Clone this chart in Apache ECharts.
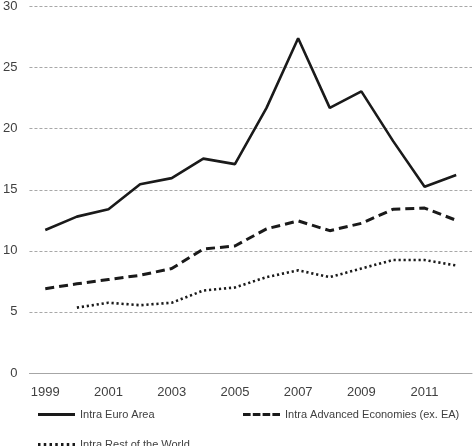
<!DOCTYPE html>
<html><head><meta charset="utf-8">
<script src="https://cdn.jsdelivr.net/npm/echarts@6/dist/echarts.min.js"></script>
<style>html,body{margin:0;padding:0;background:#fff}#c{width:473px;height:446px}</style>
</head><body><div id="c"></div>
<script>
var years = ['1999','2000','2001','2002','2003','2004','2005','2006','2007','2008','2009','2010','2011','2012'];
var euroArea = [11.7, 12.8, 13.4, 15.45, 15.95, 17.55, 17.1, 21.7, 27.4, 21.7, 23.05, 19.0, 15.25, 16.2];
var advanced = [6.9, 7.3, 7.65, 8.0, 8.55, 10.15, 10.4, 11.8, 12.45, 11.65, 12.25, 13.4, 13.5, 12.5];
var restWorld = [null, 5.35, 5.75, 5.55, 5.75, 6.75, 7.0, 7.85, 8.4, 7.85, 8.55, 9.25, 9.25, 8.8];
var names = ['Intra Euro Area', 'Intra Advanced Economies (ex. EA)', 'Intra Rest of the World'];
var yMin = 0, yMax = 30, yStep = 5;

var FONT = 'Liberation Sans';
var TXT = '#404040';
var ICON_SOLID = 'path://M0,0h37v3h-37z';
var ICON_DASH = 'path://M0,0h7.6v3h-7.6zM9.8,0h7.6v3h-7.6zM19.6,0h7.6v3h-7.6zM29.4,0h7.6v3h-7.6z';
var ICON_DOT = 'path://M0,0h2.5v3h-2.5zM5.75,0h2.5v3h-2.5zM11.5,0h2.5v3h-2.5zM17.25,0h2.5v3h-2.5zM23,0h2.5v3h-2.5zM28.75,0h2.5v3h-2.5zM34.5,0h2.5v3h-2.5z';
var chart = echarts.init(document.getElementById('c'));
function leg(name, icon, left, top) {
  return {
    data: [{name: name, icon: icon}], left: left, top: top, padding: 0,
    itemWidth: 37, itemHeight: 3, itemGap: 4,
    textStyle: {fontFamily: FONT, fontSize: 11, color: TXT},
    selectedMode: false
  };
}
chart.setOption({
  animation: false,
  grid: {left: 27, right: 1, top: 5, bottom: 73},
  legend: [leg(names[0], ICON_SOLID, 38, 409), leg(names[1], ICON_DASH, 243, 409), leg(names[2], ICON_DOT, 38, 439)],
  xAxis: {
    type: 'category', data: years, boundaryGap: true,
    axisLine: {lineStyle: {color: '#a6a6a6', width: 1}},
    axisTick: {show: false},
    axisLabel: {interval: 1, margin: 13, fontFamily: FONT, fontSize: 13, color: TXT}
  },
  yAxis: {
    type: 'value', min: yMin, max: yMax, interval: yStep,
    axisLine: {show: false}, axisTick: {show: false},
    axisLabel: {margin: 12, fontFamily: FONT, fontSize: 13, color: TXT},
    splitLine: {lineStyle: {color: '#a8a8a8', type: [3, 2], width: 1}}
  },
  series: [
    {name: names[0], type: 'line', data: euroArea, symbol: 'none',
     lineStyle: {color: '#1a1a1a', width: 2.6, type: 'solid'}, itemStyle: {color: '#1a1a1a'}},
    {name: names[1], type: 'line', data: advanced, symbol: 'none',
     lineStyle: {color: '#1a1a1a', width: 3, type: [9, 5]}, itemStyle: {color: '#1a1a1a'}},
    {name: names[2], type: 'line', data: restWorld, symbol: 'none',
     lineStyle: {color: '#1a1a1a', width: 2.6, type: [2.2, 2.8]}, itemStyle: {color: '#1a1a1a'}}
  ]
});
</script></body></html>
